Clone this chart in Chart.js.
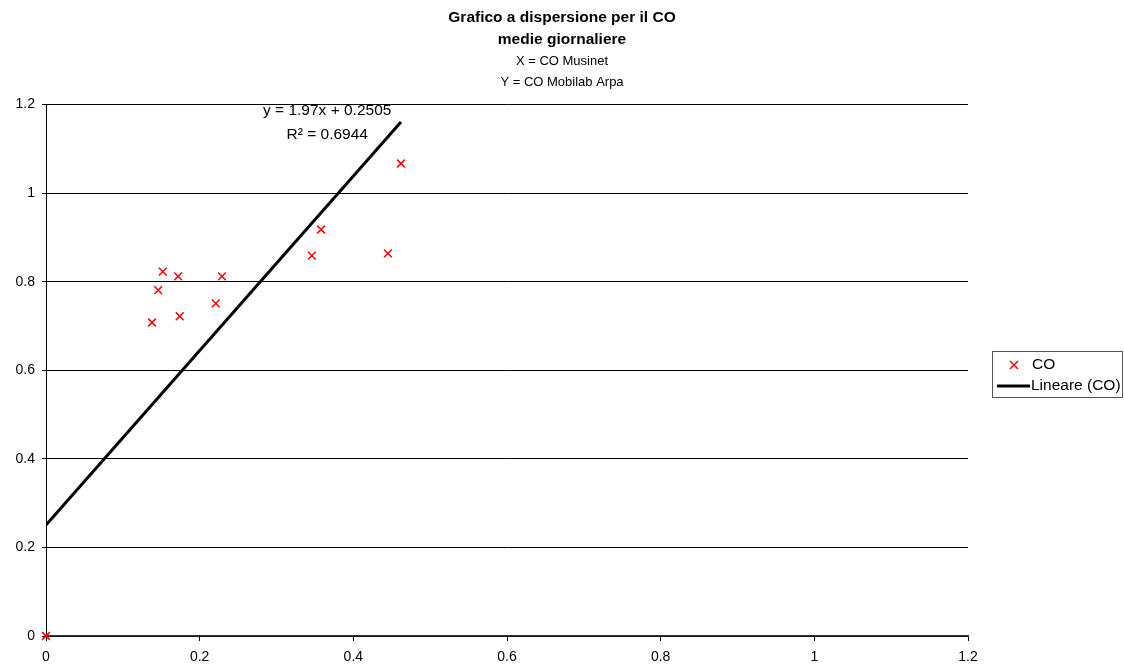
<!DOCTYPE html>
<html>
<head>
<meta charset="utf-8">
<script src="https://cdn.jsdelivr.net/npm/chart.js@4"></script>
<style>
  html, body { margin: 0; padding: 0; background: #fff; }
  #wrap { width: 1124px; height: 667px; }
</style>
</head>
<body>
<div id="wrap"><canvas id="coChart" width="1124" height="667"></canvas></div>
<script>
// CO Musinet (x) vs CO Mobilab Arpa (y), daily means
const musinetX = [0, 0.138, 0.146, 0.152, 0.172, 0.174, 0.221, 0.229, 0.346, 0.358, 0.445, 0.462];
const mobilabY = [0, 0.708, 0.781, 0.823, 0.812, 0.722, 0.751, 0.812, 0.859, 0.918, 0.864, 1.067];

// linear trend as printed on the chart
const slope = 1.97;
const intercept = 0.2505;
const rSquared = 0.6944;

const tickValues = [0, 0.2, 0.4, 0.6, 0.8, 1, 1.2];

const titleLines = ["Grafico a dispersione per il CO", "medie giornaliere"];
const subtitleLines = ["X = CO Musinet", "Y = CO Mobilab Arpa"];

const FONT = "'Liberation Sans', Arial, sans-serif";

const points = musinetX.map((x, i) => ({ x: x, y: mobilabY[i] }));
const xMax = Math.max(...musinetX);
const trend = [0, xMax].map(x => ({ x: x, y: slope * x + intercept }));

const fmt = v => String(Number(v.toFixed(1)));

// equation label + boxed legend on the right
const extras = {
  id: "extras",
  afterDraw(chart) {
    const c = chart.ctx;
    const xs = chart.scales.x, ys = chart.scales.y;
    c.save();
    c.fillStyle = "#000";
    c.font = "15.5px " + FONT;
    c.textAlign = "center";
    c.textBaseline = "middle";
    c.fillText("y = " + slope + "x + " + intercept, xs.getPixelForValue(0.366), ys.getPixelForValue(1.187));
    c.fillText("R² = " + rSquared, xs.getPixelForValue(0.366), ys.getPixelForValue(1.132));

    const left = chart.chartArea.right + 24;
    const top = 351;
    c.strokeStyle = "#555";
    c.lineWidth = 1;
    c.strokeRect(left + 0.5, top + 0.5, 130, 46);

    // cross marker
    c.strokeStyle = "#ff0000";
    c.lineWidth = 1.5;
    const mx = left + 22, my = top + 14;
    c.beginPath();
    c.moveTo(mx - 4, my - 4); c.lineTo(mx + 4, my + 4);
    c.moveTo(mx + 4, my - 4); c.lineTo(mx - 4, my + 4);
    c.stroke();

    const ly = top + 35;
    c.strokeStyle = "#000";
    c.lineWidth = 3;
    c.beginPath();
    c.moveTo(left + 5, ly); c.lineTo(left + 38, ly);
    c.stroke();

    c.textAlign = "left";
    c.fillText("CO", left + 40, my);
    c.fillText("Lineare (CO)", left + 39, ly);
    c.restore();
  }
};

new Chart(document.getElementById("coChart"), {
  type: "scatter",
  data: {
    datasets: [
      {
        label: "CO",
        data: points,
        pointStyle: "crossRot",
        pointRadius: 5.5,
        pointHoverRadius: 5.5,
        borderColor: "#ff0000",
        backgroundColor: "#ff0000",
        pointBorderWidth: 1.5,
        showLine: false,
        clip: false
      },
      {
        label: "Lineare (CO)",
        data: trend,
        type: "line",
        borderColor: "#000",
        borderWidth: 3,
        pointRadius: 0,
        fill: false
      }
    ]
  },
  options: {
    responsive: false,
    animation: false,
    layout: { padding: { left: 0, bottom: 1 } },
    plugins: {
      legend: { display: false },
      tooltip: { enabled: false },
      title: {
        display: true,
        text: titleLines,
        color: "#000",
        font: { family: FONT, size: 15.5, weight: "bold", lineHeight: 1.42 },
        padding: { top: 7, bottom: 0 }
      },
      subtitle: {
        display: true,
        text: subtitleLines,
        color: "#000",
        font: { family: FONT, size: 13, lineHeight: 1.6 },
        padding: { top: 0, bottom: 12 }
      }
    },
    scales: {
      x: {
        type: "linear",
        min: 0,
        max: 1.2,
        afterBuildTicks: s => { s.ticks = tickValues.map(v => ({ value: v })); },
        afterFit: s => { s.height = 30; },
        ticks: { color: "#000", font: { family: FONT, size: 14 }, padding: 8, callback: fmt, maxRotation: 0 },
        grid: { drawOnChartArea: false, drawTicks: true, tickLength: 5, color: "#000" },
        border: { color: "#333", width: 1.5 }
      },
      y: {
        min: 0,
        max: 1.2,
        afterBuildTicks: s => { s.ticks = tickValues.map(v => ({ value: v })); },
        afterFit: s => { s.width = 46; },
        ticks: { color: "#000", font: { family: FONT, size: 14 }, padding: 7, callback: fmt },
        grid: { color: "#000", drawTicks: true, tickLength: 4 },
        border: { color: "#000" }
      },
      spacer: {
        position: "right",
        display: true,
        ticks: { display: false },
        grid: { display: false },
        border: { display: false },
        afterFit: s => { s.width = 156; }
      }
    }
  },
  plugins: [extras]
});
</script>
</body>
</html>
